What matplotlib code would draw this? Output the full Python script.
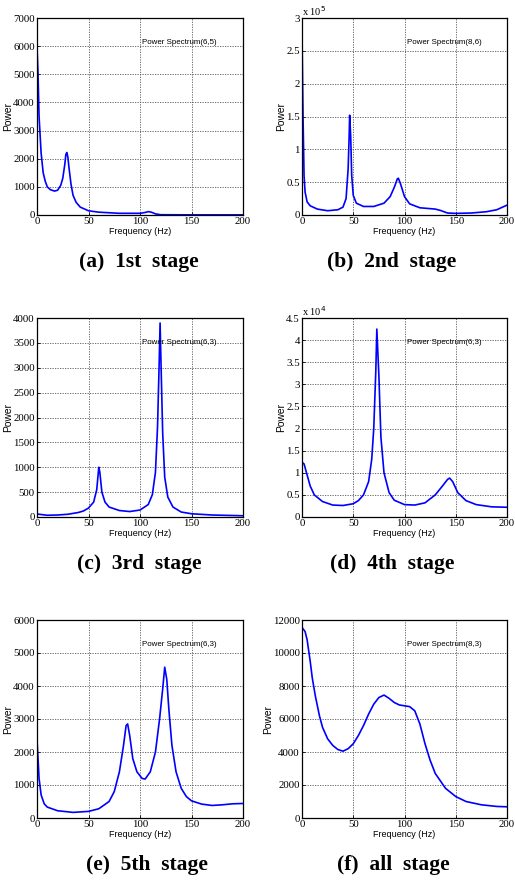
import numpy as np
import matplotlib
matplotlib.use("Agg")
import matplotlib.pyplot as plt
from matplotlib import font_manager
from matplotlib.ticker import FuncFormatter

# %% Data (frequency in Hz, power)

a_freq = [0, 1, 2, 4, 6, 8, 10, 13, 17, 20, 23, 25, 27, 28, 29, 30, 31, 33, 35, 38, 42, 50,
          60, 80, 100, 105, 108, 111, 115, 120, 150, 200]
a_power = [6000, 5000, 3500, 2200, 1500, 1200, 1000, 900, 850, 880, 1050, 1300, 1800, 2150,
           2220, 2050, 1700, 1100, 700, 450, 280, 150, 100, 60, 60, 90, 120, 100, 40, 10, 5, 5]

b_freq = [0, 1, 2, 3, 5, 8, 15, 25, 35, 40, 43, 45, 46, 46.5, 47.5, 48.5, 50, 53, 60, 70, 80,
          86, 90, 93, 94, 96, 100, 105, 115, 130, 135, 142, 150, 165, 180, 190, 200]
b_power = [2.77e5, 1.5e5, 0.6e5, 0.35e5, 0.2e5, 0.14e5, 0.09e5, 0.065e5, 0.08e5, 0.12e5,
           0.25e5, 0.7e5, 1.2e5, 1.52e5, 1.2e5, 0.6e5, 0.3e5, 0.18e5, 0.13e5, 0.13e5, 0.18e5,
           0.28e5, 0.42e5, 0.55e5, 0.56e5, 0.48e5, 0.28e5, 0.17e5, 0.11e5, 0.09e5, 0.07e5,
           0.03e5, 0.025e5, 0.03e5, 0.05e5, 0.08e5, 0.15e5]

c_freq = [0, 10, 20, 30, 40, 45, 50, 55, 58, 60, 61, 63, 66, 70, 80, 90, 100, 108, 112, 115,
          117, 118.5, 119.5, 120.5, 122, 124, 127, 132, 140, 150, 170, 200]
c_power = [60, 35, 40, 55, 90, 120, 180, 300, 550, 1000, 900, 500, 300, 200, 130, 110, 140,
           250, 450, 900, 1800, 3000, 3900, 3000, 1700, 800, 400, 200, 100, 65, 40, 25]

d_freq = [0, 2, 5, 8, 12, 20, 30, 40, 50, 55, 60, 65, 68, 70, 72, 73, 75, 77, 80, 85, 90,
          100, 110, 120, 130, 137, 142, 144, 147, 152, 160, 170, 185, 200]
d_power = [1.24e4, 1.2e4, 0.95e4, 0.7e4, 0.5e4, 0.35e4, 0.27e4, 0.26e4, 0.3e4, 0.37e4,
           0.5e4, 0.8e4, 1.3e4, 2.0e4, 3.3e4, 4.25e4, 3.2e4, 1.8e4, 1.0e4, 0.55e4, 0.38e4,
           0.28e4, 0.27e4, 0.32e4, 0.5e4, 0.7e4, 0.85e4, 0.88e4, 0.8e4, 0.55e4, 0.37e4,
           0.28e4, 0.23e4, 0.22e4]

e_freq = [0, 1, 2, 4, 7, 10, 20, 35, 50, 60, 70, 75, 80, 84, 86.5, 88, 90, 93, 97, 102, 105,
          110, 115, 119, 122, 124, 126, 128, 131, 135, 140, 145, 150, 160, 170, 180, 190, 200]
e_power = [2370, 1800, 1200, 700, 430, 330, 220, 170, 200, 280, 500, 800, 1400, 2200, 2800,
           2850, 2500, 1800, 1400, 1200, 1180, 1400, 2000, 3000, 3900, 4570, 4200, 3300, 2200,
           1400, 900, 650, 520, 420, 380, 400, 430, 440]

f_freq = [0, 3, 5, 8, 10, 13, 17, 20, 25, 30, 35, 40, 45, 50, 55, 60, 65, 70, 75, 80, 85, 90,
          95, 100, 105, 110, 115, 120, 125, 130, 140, 150, 160, 175, 190, 200]
f_power = [11550, 11300, 10800, 9500, 8500, 7400, 6200, 5500, 4800, 4400, 4150, 4050, 4200,
           4500, 5000, 5600, 6300, 6900, 7300, 7450, 7250, 7000, 6850, 6800, 6750, 6500, 5700,
           4500, 3500, 2700, 1800, 1300, 1000, 800, 700, 680]

captions = ["(a)  1st  stage", "(b)  2nd  stage", "(c)  3rd  stage",
            "(d)  4th  stage", "(e)  5th  stage", "(f)  all  stage"]
labels = ["Power Spectrum(6,5)", "Power Spectrum(8,6)", "Power Spectrum(6,3)",
          "Power Spectrum(6,3)", "Power Spectrum(6,3)", "Power Spectrum(8,3)"]
ymax = [7000, 3e5, 4000, 4.5e4, 6000, 12000]
ystep = [1000, 0.5e5, 500, 0.5e4, 1000, 2000]
yexp = [0, 5, 0, 4, 0, 0]

# %% Fonts: narrow sans if it is there, else plain sans a bit smaller
try:
    font_manager.findfont("Liberation Sans Narrow", fallback_to_default=False)
    narrow = ["Liberation Sans Narrow", "DejaVu Sans"]
    shrink = 1.0
except ValueError:
    narrow = ["Liberation Sans", "DejaVu Sans"]
    shrink = 0.87
serif = ["Liberation Serif", "DejaVu Serif"]

# %% Layout (pixels of a 515x881 picture)
W, H = 515, 881
fig = plt.figure(figsize=(W / 100, H / 100), dpi=100)

# left, top, right, bottom of each axes box
boxes = [(37, 18, 243, 215), (302, 18, 507, 215),
         (37, 318, 243, 517), (302, 318, 507, 517),
         (37, 620, 243, 818), (302, 620, 507, 818)]
cap_x = [139, 392, 139, 392, 147, 393]

data = [(a_freq, a_power), (b_freq, b_power), (c_freq, c_power),
        (d_freq, d_power), (e_freq, e_power), (f_freq, f_power)]

for i, (l, t, r, b) in enumerate(boxes):
    ax = fig.add_axes([l / W, 1 - b / H, (r - l) / W, (b - t) / H])
    fx, py = data[i]
    ax.plot(fx, py, color="#0000ff", lw=1.2)
    ax.set_xlim(0, 200)
    ax.set_ylim(0, ymax[i])
    ax.set_xticks([0, 50, 100, 150, 200])
    ax.set_yticks(np.arange(0, ymax[i] + ystep[i] / 2, ystep[i]))
    sc = 10 ** yexp[i]
    ax.yaxis.set_major_formatter(FuncFormatter(lambda v, p, sc=sc: "%g" % (v / sc)))
    ax.grid(True, color="#555555", ls=(0, (1.5, 1.5)), lw=0.6)
    ax.tick_params(direction="in", length=2.5, width=0.6, pad=1.5, labelsize=7.8)
    for lab in ax.get_xticklabels() + ax.get_yticklabels():
        lab.set_family(serif)
    for s in ax.spines.values():
        s.set_linewidth(0.9)
    ax.set_xlabel("Frequency (Hz)", family=narrow, fontsize=7.5 * shrink, labelpad=1)
    ax.set_ylabel("Power", family=narrow, fontsize=8.5 * shrink, labelpad=0)
    ax.text(0.51, 0.875, labels[i], transform=ax.transAxes, family=narrow,
            fontsize=6.5 * shrink, va="center", ha="left")
    if yexp[i]:
        ax.text(0.0, 1.0, "x 10$^{%d}$" % yexp[i], transform=ax.transAxes,
                family=serif, fontsize=7.5, ha="left", va="bottom")
    cap_y = b + 47
    fig.text(cap_x[i] / W, 1 - cap_y / H, captions[i], family=serif,
             fontsize=15.5, fontweight="bold", ha="center", va="center")

fig.savefig("out.png", dpi=100)
